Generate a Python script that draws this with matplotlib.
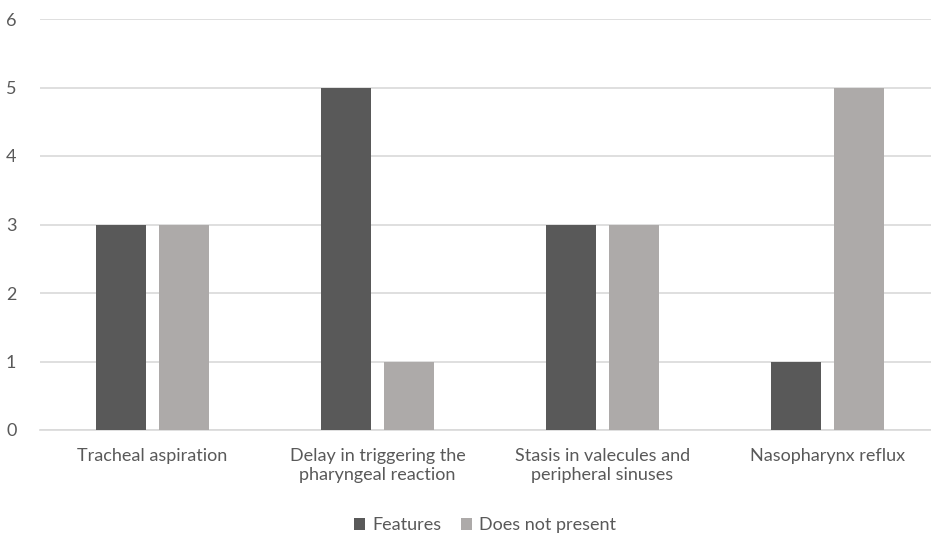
import matplotlib
matplotlib.use("Agg")
import matplotlib.pyplot as plt
import numpy as np

categories = ["Tracheal aspiration",
              "Delay in triggering the\npharyngeal reaction",
              "Stasis in valecules and\nperipheral sinuses",
              "Nasopharynx reflux"]
features = [3, 5, 3, 1]
not_present = [3, 1, 3, 5]
series_names = ["Features", "Does not present"]
yticks = [0, 1, 2, 3, 4, 5, 6]

plt.rcParams['font.family'] = ['Lato', 'DejaVu Sans']
text_color = "#595959"
fs = 13

fig = plt.figure(figsize=(9.31, 5.34), dpi=100)
ax = fig.add_axes([40 / 931, 1 - 430 / 534, 900 / 931, (430 - 19) / 534])

x = np.arange(len(categories))
w = 0.222
off = 0.142
ax.bar(x - off, features, width=w, color="#595959", label=series_names[0], zorder=3)
ax.bar(x + off, not_present, width=w, color="#ADAAA9", label=series_names[1], zorder=3)

ax.set_xlim(-0.5, len(categories) - 0.5)
ax.set_ylim(0, 6)
ax.set_yticks(yticks)
ax.yaxis.grid(True, color="#D9D9D9", linewidth=1.2, zorder=0)
ax.set_axisbelow(True)
for s in ["top", "right", "left"]:
    ax.spines[s].set_visible(False)
ax.spines["bottom"].set_color("#D9D9D9")
ax.spines["bottom"].set_linewidth(1.2)
ax.tick_params(axis="both", length=0, colors=text_color, labelsize=fs)
ax.tick_params(axis="y", pad=17)
ax.tick_params(axis="x", pad=13)
ax.set_xticks(x)
ax.set_xticklabels(categories, linespacing=1.25)

fig.legend(loc="lower center", bbox_to_anchor=(485 / 931, -0.029), ncol=2, frameon=False,
           fontsize=fs, labelcolor=text_color, handlelength=0.6, handleheight=0.6,
           handletextpad=0.4, columnspacing=1.1)

fig.savefig("out.png", dpi=100)
